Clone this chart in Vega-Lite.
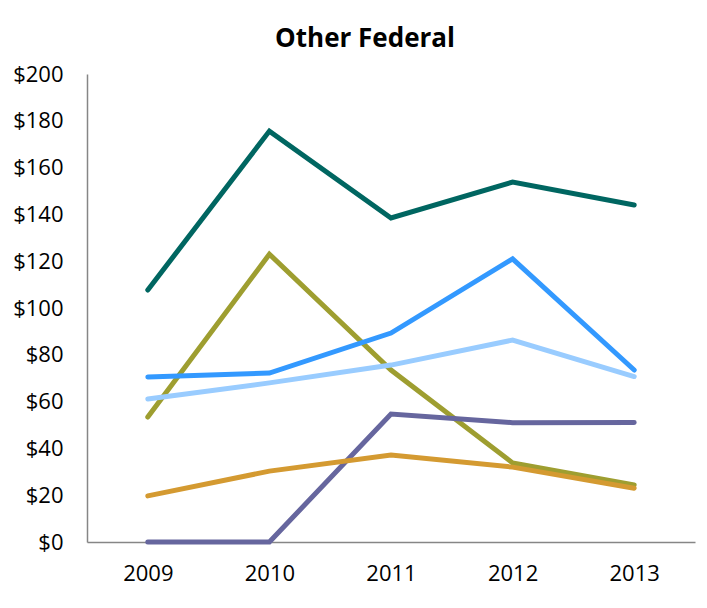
{
  "$schema": "https://vega.github.io/schema/vega-lite/v6.json",
  "width": 608,
  "height": 468,
  "autosize": {"type": "none"},
  "padding": {"left": 87, "top": 74, "right": 12, "bottom": 66},
  "background": "white",
  "title": {
    "text": "Other Federal",
    "font": "Open Sans",
    "fontSize": 26,
    "fontWeight": "bold",
    "color": "#000000",
    "anchor": "middle",
    "frame": "group",
    "baseline": "alphabetic",
    "offset": -10,
    "dx": -26
  },
  "config": {"view": {"stroke": null}},
  "data": {
    "values": [
      {"year": "2009", "series": "Series 1", "value": 107.7},
      {"year": "2010", "series": "Series 1", "value": 175.6},
      {"year": "2011", "series": "Series 1", "value": 138.5},
      {"year": "2012", "series": "Series 1", "value": 153.8},
      {"year": "2013", "series": "Series 1", "value": 144.0},
      {"year": "2009", "series": "Series 2", "value": 53.4},
      {"year": "2010", "series": "Series 2", "value": 123.0},
      {"year": "2011", "series": "Series 2", "value": 73.5},
      {"year": "2012", "series": "Series 2", "value": 33.8},
      {"year": "2013", "series": "Series 2", "value": 24.4},
      {"year": "2009", "series": "Series 3", "value": 70.5},
      {"year": "2010", "series": "Series 3", "value": 72.2},
      {"year": "2011", "series": "Series 3", "value": 89.3},
      {"year": "2012", "series": "Series 3", "value": 121.0},
      {"year": "2013", "series": "Series 3", "value": 73.5},
      {"year": "2009", "series": "Series 4", "value": 61.1},
      {"year": "2010", "series": "Series 4", "value": 68.0},
      {"year": "2011", "series": "Series 4", "value": 75.6},
      {"year": "2012", "series": "Series 4", "value": 86.3},
      {"year": "2013", "series": "Series 4", "value": 70.7},
      {"year": "2009", "series": "Series 5", "value": 0},
      {"year": "2010", "series": "Series 5", "value": 0},
      {"year": "2011", "series": "Series 5", "value": 54.7},
      {"year": "2012", "series": "Series 5", "value": 51.0},
      {"year": "2013", "series": "Series 5", "value": 51.1},
      {"year": "2009", "series": "Series 6", "value": 19.7},
      {"year": "2010", "series": "Series 6", "value": 30.3},
      {"year": "2011", "series": "Series 6", "value": 37.2},
      {"year": "2012", "series": "Series 6", "value": 32.0},
      {"year": "2013", "series": "Series 6", "value": 23.0}
    ]
  },
  "mark": {"type": "line", "strokeWidth": 5, "strokeCap": "round", "strokeJoin": "miter"},
  "encoding": {
    "x": {
      "field": "year",
      "type": "ordinal",
      "scale": {"type": "point", "padding": 0.5},
      "axis": {
        "title": null,
        "labelAngle": 0,
        "labelFont": "Open Sans",
        "labelFontSize": 22,
        "labelColor": "#000000",
        "labelPadding": 21,
        "ticks": false,
        "domainColor": "#868686",
        "domainWidth": 1.5
      }
    },
    "y": {
      "field": "value",
      "type": "quantitative",
      "scale": {"domain": [0, 200], "nice": false},
      "axis": {
        "title": null,
        "values": [0, 20, 40, 60, 80, 100, 120, 140, 160, 180, 200],
        "format": "$.0f",
        "labelFont": "Open Sans",
        "labelFontSize": 22,
        "labelColor": "#000000",
        "labelPadding": 24,
        "ticks": false,
        "grid": false,
        "domainColor": "#868686",
        "domainWidth": 1.5
      }
    },
    "color": {
      "field": "series",
      "type": "nominal",
      "legend": null,
      "scale": {
        "domain": ["Series 1", "Series 2", "Series 3", "Series 4", "Series 5", "Series 6"],
        "range": ["#006661", "#9e9e30", "#3399ff", "#99ccff", "#66669e", "#d49a31"]
      }
    }
  }
}
